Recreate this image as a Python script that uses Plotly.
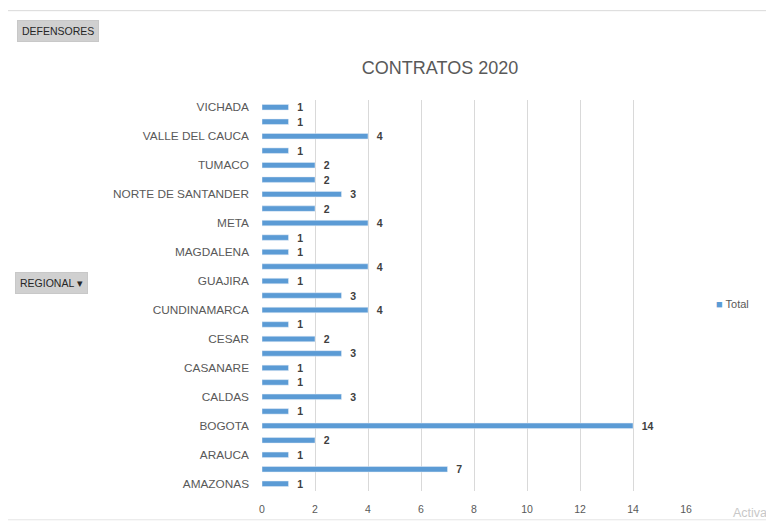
import plotly.graph_objects as go

# Data (bottom to top, as in the pivot chart)
regionales = ["AMAZONAS", "ANTIOQUIA", "ARAUCA", "ATLANTICO", "BOGOTA", "BOLIVAR",
              "CALDAS", "CAQUETA", "CASANARE", "CAUCA", "CESAR", "CORDOBA",
              "CUNDINAMARCA", "GUAINIA", "GUAJIRA", "HUILA", "MAGDALENA", "MEDELLIN",
              "META", "NARIÑO", "NORTE DE SANTANDER", "SANTANDER", "TUMACO", "URABA",
              "VALLE DEL CAUCA", "VAUPES", "VICHADA"]
contratos = [1, 7, 1, 2, 14, 1, 3, 1, 1, 3, 2, 1, 4, 3, 1, 4, 1, 1, 4, 2, 3, 2, 2, 1, 4, 1, 1]
etiquetas_visibles = regionales[::2]
x_ticks = [0, 2, 4, 6, 8, 10, 12, 14, 16]

# page body adds an 8px offset; work in photo pixels and convert
OFF = 8
W, H = 774 - OFF, 527 - OFF
L, T = 262 - OFF, 100 - OFF
R = W - (686 - OFF)
B = H - (494 - OFF)
pw, ph = W - L - R, H - T - B

def px(x):
    return (x - OFF - L) / pw

def py(y):
    return (H - B - (y - OFF)) / ph

fig = go.Figure(go.Bar(
    y=regionales, x=contratos, orientation="h",
    marker=dict(color="#5B9BD5"),
    text=contratos, texttemplate="   %{x}", textposition="outside",
    cliponaxis=False, constraintext="none",
    textfont=dict(family="Liberation Sans", size=10.5, color="#404040", weight="bold"),
    name="Total", showlegend=False,
))

fig.update_layout(
    width=W, height=H,
    margin=dict(l=L, r=R, t=T, b=B),
    paper_bgcolor="white", plot_bgcolor="white",
    bargap=0.62,
    font=dict(family="Liberation Sans", color="#595959"),
    title=dict(text="CONTRATOS 2020", xref="paper", x=px(440), xanchor="center",
               yref="container", y=1 - (68 - OFF) / H, yanchor="middle",
               font=dict(family="Liberation Sans", size=18, color="#595959")),
    xaxis=dict(range=[0, 16], tickvals=x_ticks, showgrid=True, gridcolor="#D9D9D9",
               gridwidth=1, zeroline=False, showline=False, ticks="",
               ticklabelstandoff=10,
               tickfont=dict(size=10.5, color="#595959"), fixedrange=True),
    yaxis=dict(type="category", categoryorder="array", categoryarray=regionales,
               tickvals=etiquetas_visibles, ticktext=etiquetas_visibles,
               showgrid=False, ticks="", ticklabelstandoff=12,
               tickfont=dict(size=11.8, color="#595959"), fixedrange=True),
    shapes=[
        dict(type="line", xref="paper", yref="paper", x0=px(5), x1=px(774), y0=py(10), y1=py(10),
             line=dict(color="#D9D9D9", width=1)),
        dict(type="line", xref="paper", yref="paper", x0=px(5), x1=px(5), y0=py(10), y1=py(527),
             line=dict(color="#D9D9D9", width=1)),
        dict(type="line", xref="paper", yref="paper", x0=px(5), x1=px(774), y0=py(523), y1=py(523),
             line=dict(color="#E6E6E6", width=1)),
    ],
    annotations=[
        dict(text="DEFENSORES", xref="paper", yref="paper", x=px(17), y=py(30),
             xanchor="left", yanchor="middle", showarrow=False,
             font=dict(size=10.5, color="#262626"), bgcolor="#D0D0D0",
             bordercolor="#C8C8C8", borderwidth=1, borderpad=4),
        dict(text="REGIONAL ▾", xref="paper", yref="paper", x=px(15), y=py(284),
             xanchor="left", yanchor="middle", showarrow=False,
             font=dict(size=10.5, color="#262626"), bgcolor="#D0D0D0",
             bordercolor="#C8C8C8", borderwidth=1, borderpad=4),
        dict(text="<span style='color:#5B9BD5'>■</span> Total", xref="paper", yref="paper",
             x=px(714), y=py(306), xanchor="left", yanchor="middle", showarrow=False,
             font=dict(size=11, color="#595959")),
        dict(text="Activa", xref="paper", yref="paper", x=px(731), y=py(516),
             xanchor="left", yanchor="middle", showarrow=False,
             font=dict(size=12.5, color="#C8C8C8")),
    ],
)

fig.write_html("out.html")
